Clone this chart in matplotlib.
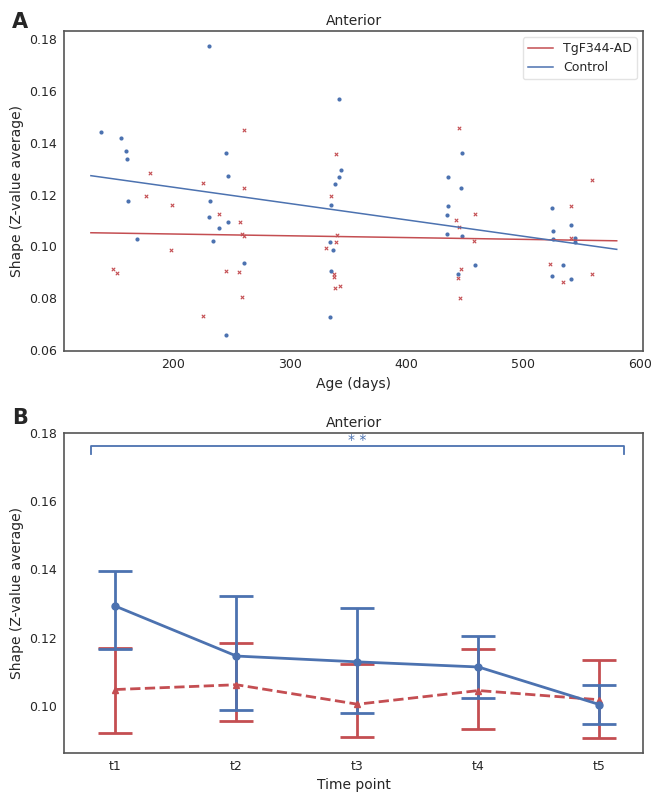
"""
Anterior shape: scatter vs age (A) and mean per time point (B)
"""
import matplotlib.pyplot as plt
import numpy as np

RED = '#C44E52'
BLUE = '#4C72B0'

# panel A - control (blue dots)
ctrl_days = [138.7, 155.8, 159.8, 161.0, 161.8, 169.8, 230.8, 245.9, 247.0, 231.9, 230.8, 247.0,
             239.9, 234.8, 260.7, 245.9, 342.7, 343.9, 342.7, 338.7, 335.9, 334.8, 336.8, 335.9,
             334.8, 435.9, 447.6, 446.7, 435.9, 434.4, 434.4, 447.6, 443.9, 458.7, 524.8, 525.6,
             525.6, 540.8, 543.9, 543.9, 533.6, 524.8, 540.8]
ctrl_vals = [0.1440, 0.1417, 0.1370, 0.1337, 0.1175, 0.1029, 0.1773, 0.1359, 0.1273, 0.1176, 0.1114,
             0.1094, 0.1070, 0.1023, 0.0937, 0.0657, 0.1567, 0.1293, 0.1269, 0.1241, 0.1161, 0.1018,
             0.0988, 0.0907, 0.0729, 0.1266, 0.1360, 0.1224, 0.1158, 0.1123, 0.1049, 0.1040, 0.0893,
             0.0928, 0.1148, 0.1059, 0.1027, 0.1081, 0.1033, 0.1017, 0.0928, 0.0886, 0.0873]

# panel A - TgF344-AD (red crosses)
tg_days = [260.7, 180.9, 225.9, 176.9, 199.7, 239.9, 257.9, 259.6, 260.7, 198.6, 148.7, 152.7,
           245.9, 256.7, 259.6, 225.9, 260.7, 339.6, 335.9, 340.8, 339.6, 331.6, 337.9, 337.9,
           338.7, 343.6, 445.0, 458.7, 442.7, 445.0, 457.5, 447.0, 443.9, 445.9, 540.8, 558.7,
           540.8, 522.5, 533.6, 558.7]
tg_vals = [0.1448, 0.1283, 0.1246, 0.1194, 0.1159, 0.1126, 0.1094, 0.1050, 0.1039, 0.0986, 0.0915,
           0.0897, 0.0906, 0.0901, 0.0805, 0.0734, 0.1225, 0.1356, 0.1195, 0.1046, 0.1019, 0.0996,
           0.0893, 0.0884, 0.0839, 0.0848, 0.1455, 0.1126, 0.1102, 0.1076, 0.1023, 0.0915, 0.0877,
           0.0800, 0.1156, 0.1255, 0.1032, 0.0934, 0.0864, 0.0893]

# fitted lines
fit_days = [130, 580]
fit_tg = [0.1053, 0.1022]
fit_ctrl = [0.1273, 0.0989]

# panel B
time_points = ['t1', 't2', 't3', 't4', 't5']
ctrl_mean = [0.1292, 0.1146, 0.1129, 0.1114, 0.1004]
ctrl_low = [0.1167, 0.0989, 0.0980, 0.1024, 0.0946]
ctrl_high = [0.1394, 0.1322, 0.1286, 0.1205, 0.1062]
tg_mean = [0.1048, 0.1062, 0.1005, 0.1045, 0.1018]
tg_low = [0.0922, 0.0955, 0.0908, 0.0932, 0.0906]
tg_high = [0.1169, 0.1185, 0.1122, 0.1166, 0.1133]

plt.rcParams['font.family'] = ['DejaVu Sans']
plt.rcParams['text.color'] = '#262626'
plt.rcParams['axes.labelcolor'] = '#262626'
plt.rcParams['xtick.color'] = '#262626'
plt.rcParams['ytick.color'] = '#262626'

fig = plt.figure(figsize=(6.56, 7.93), dpi=100)
ax1 = fig.add_axes([0.0976, 0.557, 0.8826, 0.404])
ax2 = fig.add_axes([0.0976, 0.0508, 0.8826, 0.4036])

for ax in (ax1, ax2):
    for s in ax.spines.values():
        s.set_color('#555555')
        s.set_linewidth(1.2)
    ax.tick_params(length=0, labelsize=9, pad=5)

# A
ax1.scatter(tg_days, tg_vals, marker='x', s=6, color=RED, linewidths=0.8)
ax1.scatter(ctrl_days, ctrl_vals, marker='o', s=9, color=BLUE, linewidths=0)
ax1.plot(fit_days, fit_tg, color=RED, linewidth=1.1, label='TgF344-AD')
ax1.plot(fit_days, fit_ctrl, color=BLUE, linewidth=1.1, label='Control')
ax1.set_xlim(107, 602.5)
ax1.set_ylim(0.0596, 0.1831)
ax1.set_xticks([200, 300, 400, 500, 600])
ax1.set_yticks([0.06, 0.08, 0.10, 0.12, 0.14, 0.16, 0.18])
ax1.set_title('Anterior', fontsize=10, pad=4)
ax1.set_xlabel('Age (days)', fontsize=10)
ax1.set_ylabel('Shape (Z-value average)', fontsize=10)
ax1.legend(loc='upper right', fontsize=9, frameon=True, edgecolor='#dddddd', fancybox=True)

# B
x = np.arange(len(time_points))
m = np.array(tg_mean)
ax2.errorbar(x, m, yerr=[m - np.array(tg_low), np.array(tg_high) - m], color=RED,
             linestyle='--', linewidth=2, marker='^', markersize=4, capsize=12, elinewidth=2,
             capthick=2)
m = np.array(ctrl_mean)
ax2.errorbar(x, m, yerr=[m - np.array(ctrl_low), np.array(ctrl_high) - m], color=BLUE,
             linestyle='-', linewidth=2, marker='o', markersize=5, capsize=12, elinewidth=2,
             capthick=2)
ax2.plot([-0.2, -0.2, 4.2, 4.2], [0.1738, 0.176, 0.176, 0.1738], color=BLUE, linewidth=1.3)
ax2.text(2, 0.1779, '* *', color=BLUE, ha='center', va='center', fontsize=10)
ax2.set_xlim(-0.425, 4.36)
ax2.set_ylim(0.0863, 0.18)
ax2.set_xticks(x)
ax2.set_xticklabels(time_points)
ax2.set_yticks([0.10, 0.12, 0.14, 0.16, 0.18])
ax2.set_title('Anterior', fontsize=10, pad=4)
ax2.set_xlabel('Time point', fontsize=10)
ax2.set_ylabel('Shape (Z-value average)', fontsize=10)

fig.text(0.018, 0.985, 'A', fontsize=15, fontweight='bold', va='top')
fig.text(0.018, 0.486, 'B', fontsize=15, fontweight='bold', va='top')

plt.savefig('out.png', dpi=100)
